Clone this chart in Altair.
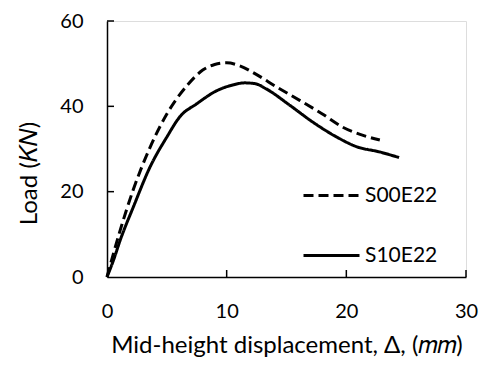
import altair as alt
import pandas as pd

# ---- data ----
series_names = ["S00E22", "S10E22"]

s00_x = [0, 1.0, 2.2, 3.6, 5.0, 6.7, 8.0, 9.0, 10.0, 11.1, 12.4, 14.2, 16.1, 18.0, 19.7, 21.4, 22.8]
s00_y = [0, 10.0, 20.5, 30.4, 38.2, 44.9, 48.5, 49.8, 50.2, 49.5, 47.6, 44.5, 41.4, 38.2, 35.1, 33.2, 32.1]

s10_x = [0, 0.55, 1.1, 2.2, 3.6, 5.0, 6.1, 7.5, 9.2, 10.5, 11.5, 12.4, 13.3, 15.3, 17.2, 19.2, 20.8, 22.8, 24.4]
s10_y = [0, 4.0, 8.6, 16.4, 25.8, 32.8, 37.6, 40.6, 43.7, 45.0, 45.5, 45.3, 44.1, 40.2, 36.3, 32.8, 30.6, 29.3, 28.0]

x_ticks = [0, 10, 20, 30]
y_ticks = [0, 20, 40, 60]

x_title = "Mid-height displacement, Δ, (𝑚𝑚)"
y_title = "Load (𝐾𝑁)"

df = pd.concat([
    pd.DataFrame({"x": s00_x, "y": s00_y, "series": series_names[0]}),
    pd.DataFrame({"x": s10_x, "y": s10_y, "series": series_names[1]}),
], ignore_index=True)

W, H = 359, 256
FONT = "Lato"

xscale = alt.Scale(domain=[0, 30], nice=False, zero=False)
yscale = alt.Scale(domain=[0, 60], nice=False, zero=False)

xaxis = alt.Axis(values=x_ticks, title=x_title, grid=False, ticks=False, labelFlush=False,
                 labelPadding=24, titlePadding=12, labelFontSize=20,
                 titleFontSize=24, titleFontWeight="normal", labelFont=FONT,
                 titleFont=FONT, labelColor="black", titleColor="black",
                 domainColor="black", domainWidth=1.5)
yaxis = alt.Axis(values=y_ticks, title=y_title, grid=False, ticks=False, labelFlush=False,
                 labelPadding=24, titlePadding=18, labelFontSize=20,
                 titleFontSize=24, titleFontWeight="normal", labelFont=FONT,
                 titleFont=FONT, labelColor="black", titleColor="black",
                 domainColor="black", domainWidth=1.5, titleY=152)

lines = alt.Chart(df).mark_line(strokeWidth=3, color="black", interpolate="monotone").encode(
    x=alt.X("x:Q", scale=xscale, axis=xaxis),
    y=alt.Y("y:Q", scale=yscale, axis=yaxis),
    strokeDash=alt.StrokeDash("series:N",
                              scale=alt.Scale(domain=series_names, range=[[10, 5], [1, 0]]),
                              legend=alt.Legend(title=None, orient="none", legendX=195, legendY=145,
                                                symbolType="stroke", symbolSize=3136,
                                                symbolStrokeWidth=3, symbolStrokeColor="black",
                                                labelFontSize=21, labelFont=FONT, labelColor="black",
                                                labelOffset=4, rowPadding=20)),
)

xt = alt.Chart(pd.DataFrame({"x": x_ticks[1:]})).mark_rule(color="black", strokeWidth=1.5).encode(
    x=alt.X("x:Q", scale=xscale, axis=xaxis),
    y=alt.value(H), y2=alt.value(H - 7),
)
yt = alt.Chart(pd.DataFrame({"y": y_ticks[1:]})).mark_rule(color="black", strokeWidth=1.5).encode(
    y=alt.Y("y:Q", scale=yscale, axis=yaxis),
    x=alt.value(0), x2=alt.value(7),
)

chart = alt.layer(lines, xt, yt).properties(
    width=W, height=H,
    padding={"left": 99, "top": 13, "right": 14, "bottom": 80},
    autosize="none",
).configure_view(stroke=None).configure(background="white")

chart.save("out.html", embed_options={"renderer": "svg", "actions": False})
